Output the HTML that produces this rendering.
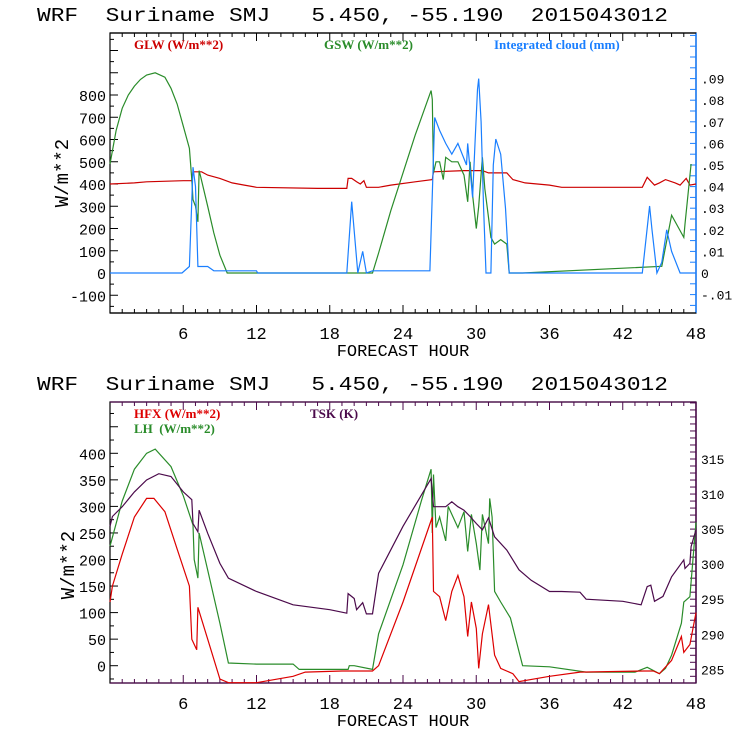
<!DOCTYPE html>
<html><head><meta charset="utf-8"><style>
body{margin:0;background:#fff}
svg{display:block}
text{font-family:"Liberation Mono",monospace;white-space:pre}
.leg{font-family:"Liberation Serif",serif;font-weight:bold;font-size:13px}
</style></head><body>
<svg id="c" width="740" height="740" viewBox="0 0 740 740" xmlns="http://www.w3.org/2000/svg"></svg>
<script>
// ---- data (hours / values) ----
const gswH=[0,0.5,1,1.5,2,2.5,3,3.7,4.5,5,5.5,6,6.5,6.7,6.8,7.0,7.2,7.3,7.4,8,8.5,9,9.6,21.5,22,23,24,25,26.3,26.4,26.5,26.7,27,27.3,27.5,28,28.5,29,29.3,29.5,29.7,30,30.2,30.5,30.7,31,31.2,31.5,32,32.5,32.7,33.8,45.2,46,47,47.1,47.6,48];
const gswV=[490,640,740,800,840,870,890,900,880,830,760,660,560,420,330,300,230,460,440,300,180,80,0,0,90,280,450,620,820,780,450,500,500,420,520,500,500,440,320,500,350,200,300,520,380,250,160,130,150,130,0,0,30,260,160,220,490];
const glwH=[0,2,3,6,6.7,6.8,7.5,8,9,10,11,12,17,19.4,19.5,19.8,20.2,20.5,20.8,21,22,23,25,26.4,26.5,29,30.5,31,32.5,33,34,36,37,43.6,44,44.6,45,45.5,46.3,46.7,47.2,47.5,48];
const glwV=[400,405,410,415,415,455,455,440,425,405,395,385,380,380,425,425,410,400,415,385,385,395,410,420,455,460,460,450,450,420,405,395,385,385,430,395,405,420,405,395,425,395,400];
const cldH=[0,5.9,6.5,6.8,7.0,7.2,8,8.5,12,12.1,19.4,19.8,20.3,20.7,21,21.5,26.2,26.6,27,27.5,28,28.5,29.2,29.3,29.7,29.9,30.1,30.2,30.4,30.6,30.8,31.2,31.4,31.6,32,32.4,32.7,43.6,44.2,44.4,44.8,45.2,45.6,46,46.7,48];
const cldV=[0,0,0.003,0.049,0.04,0.003,0.003,0.001,0.001,0,0,0.033,0,0.01,0,0.001,0.001,0.072,0.066,0.06,0.055,0.06,0.05,0.06,0.035,0.06,0.085,0.09,0.07,0.03,0,0,0.05,0.062,0.055,0.03,0,0,0.031,0.02,0,0.005,0.02,0.01,0,0];
const lhH=[0,1,2,3,3.7,5,6,6.8,6.9,7.2,7.3,8,9,9.7,12,15,15.5,19.5,19.6,20,21.5,22,24,25.5,26.3,26.4,26.5,26.7,27,27.5,27.7,28.5,29,29.3,29.6,30,30.3,30.5,31,31.1,31.3,31.5,32,32.8,33.8,36,39,43,44,45,45.5,46,46.8,47,47.5,48];
const lhV=[225,310,370,400,408,375,320,265,200,165,250,180,80,5,3,3,-7,-7,0,0,-7,60,190,310,370,250,360,260,280,235,300,260,290,215,285,230,180,285,230,315,280,140,120,90,0,-2,-12,-12,-3,-15,-5,20,80,120,130,270];
const hfxH=[0,0.2,1,2,3,3.6,4.5,5.5,6.5,6.7,7.1,7.2,8,9,9.7,12,15,16,19,21.5,22,24,26.4,26.5,27,27.5,28,28.5,29,29.3,29.6,30,30.2,30.5,31,31.5,32,33,33.5,36,38.5,43.7,44.5,45,46,46.8,47,47.5,48];
const hfxV=[120,150,210,280,315,315,290,220,150,50,30,110,50,-25,-32,-32,-20,-12,-10,-10,0,120,280,140,130,85,140,170,130,55,120,70,-5,60,115,20,-5,-15,-30,-20,-12,-10,-10,-15,10,55,25,40,100];
const tskH=[0,0.2,1,2,3,4,5,6,6.7,6.8,7.2,7.3,8,9,9.7,12,15,18,19.4,19.5,20,20.2,20.7,21,21.5,22,24,26.3,26.5,27.5,28,28.5,29,29.5,30,30.5,31,31.5,32.5,33.5,34.5,36,37,38.5,39,42,43.5,44,44.3,44.6,45.3,46,47,47.1,47.5,47.6,48];
const tskV=[305.4,306.8,308.2,310.3,312.0,312.9,312.5,310.3,309.2,305.8,304.6,307.7,304.4,300.1,298,296.1,294.2,293.5,293,295.8,295.1,293.5,294.5,292.9,292.9,298.7,305.4,312.2,308.2,308.2,308.9,308.2,307.7,306.8,305.8,304.9,306.6,303.9,302,299.2,297.7,296.1,296.1,296,295,294.7,294.2,296.8,297,294.7,295.4,298.2,300.6,299.4,300.1,302.5,304.9];
const xTicks=[6,12,18,24,30,36,42,48];
const topL=[-100,0,100,200,300,400,500,600,700,800];
const topR=[-0.01,0,0.01,0.02,0.03,0.04,0.05,0.06,0.07,0.08,0.09];
const topRLab=['-.01','0','.01','.02','.03','.04','.05','.06','.07','.08','.09'];
const botL=[0,50,100,150,200,250,300,350,400];
const botR=[285,290,295,300,305,310,315];

const S=document.getElementById('c'),NS='http://www.w3.org/2000/svg';
function el(t,a,p){const e=document.createElementNS(NS,t);for(const k in a)e.setAttribute(k,a[k]);(p||S).appendChild(e);return e;}
const X0=110,X1=696;const xs=h=>X0+(X1-X0)*h/48;
function tx(x,y,s,o,name){const e=el('text',Object.assign({x:x,y:y},o));e.textContent=s;return e;}
function line(H,V,f,col,name){const pts=H.map((h,i)=>xs(h).toFixed(1)+','+f(V[i]).toFixed(1)).join(' ');const e=el('polyline',{points:pts,fill:'none',stroke:col,'stroke-width':1.2});}
function panel(top,bot,lcol,rcol,yL,yLlab,lmin,lmax,lstep,rVals,rLabs,rmin,rmax,rstep,yRf){
  el('rect',{x:X0,y:top,width:X1-X0,height:bot-top,fill:'none',stroke:'#000','stroke-width':1.2});
  el('line',{x1:X1,y1:top,x2:X1,y2:bot,stroke:rcol,'stroke-width':1.5});
  el('line',{x1:X0,y1:top,x2:X1,y2:top,stroke:lcol,'stroke-width':1.2});
  el('line',{x1:X0,y1:bot,x2:X1,y2:bot,stroke:lcol,'stroke-width':1.2});
  for(let h=1;h<48;h++){const L=h%6==0?8:4;el('line',{x1:xs(h),y1:bot,x2:xs(h),y2:bot-L,stroke:lcol});el('line',{x1:xs(h),y1:top,x2:xs(h),y2:top+L,stroke:lcol});}
  xTicks.forEach(h=>tx(xs(h),bot+26,String(h),{'text-anchor':'middle','font-size':17,fill:'#000'},'x-tick-label'));
  tx(403,bot+43,'FORECAST HOUR',{'text-anchor':'middle','font-size':17,fill:'#000'},'x-axis-title');
  for(let v=lmin;v<=lmax+1e-9;v+=lstep){const y=yL(v);if(y<top||y>bot)continue;const maj=Math.abs((v/(lstep*2))-Math.round(v/(lstep*2)))<1e-6;el('line',{x1:X0,y1:y,x2:X0+(maj?8:4),y2:y,stroke:'#000'});}
  yLlab.forEach(v=>tx(X0-4,yL(v)+6,String(v),{'text-anchor':'end','font-size':15,fill:'#000'},'y-left-tick-label'));
  for(let v=rmin;v<=rmax+1e-9;v+=rstep){const y=yRf(v);if(y<top||y>bot)continue;el('line',{x1:X1,y1:y,x2:X1-6,y2:y,stroke:rcol});}
  rVals.forEach((v,i)=>tx(X1+5,yRf(v)+5,rLabs[i],{'font-size':13,fill:'#000'},'y-right-tick-label'));
}
// top panel
const yT=v=>273-v*0.2225, yTR=v=>273-v*2160;
tx(37,21,'WRF  Suriname SMJ   5.450, -55.190  2015043012',{'font-size':19,textLength:631,lengthAdjust:'spacingAndGlyphs',fill:'#000'},'top-title');
panel(33,313,'#000','#1a7fff',yT,topL,-150,1050,50,topR,topRLab,-0.02,0.15,0.005,yTR);
line(glwH,glwV,yT,'#cc0000','glw-line');
line(gswH,gswV,yT,'#2a8c2a','gsw-line');
line(cldH,cldV,yTR,'#1a7fff','cloud-line');
tx(134,49,'GLW (W/m**2)',{class:'leg',fill:'#cc0000'},'legend-glw');
tx(324,49,'GSW (W/m**2)',{class:'leg',fill:'#2a8c2a'},'legend-gsw');
tx(494,49,'Integrated cloud (mm)',{class:'leg',fill:'#1a7fff'},'legend-cloud');
tx(68,173,'W/m**2',{'font-size':19,'text-anchor':'middle',transform:'rotate(-90 68 173)',fill:'#000'},'y-axis-title-top');
// bottom panel
const yB=v=>665.7-v*0.531, yBR=v=>669.3-(v-285)*7.01;
tx(37,390,'WRF  Suriname SMJ   5.450, -55.190  2015043012',{'font-size':19,textLength:631,lengthAdjust:'spacingAndGlyphs',fill:'#000'},'bottom-title');
panel(402,683,'#4b0a4b','#4b0a4b',yB,botL,-50,500,25,botR,botR.map(String),280,330,1,yBR);
line(lhH,lhV,yB,'#2a8c2a','lh-line');
line(hfxH,hfxV,yB,'#dd0000','hfx-line');
line(tskH,tskV,yBR,'#4b0a4b','tsk-line');
tx(134,418,'HFX (W/m**2)',{class:'leg',fill:'#dd0000'},'legend-hfx');
tx(134,433,'LH  (W/m**2)',{class:'leg',fill:'#2a8c2a'},'legend-lh');
tx(310,418,'TSK (K)',{class:'leg',fill:'#4b0a4b'},'legend-tsk');
tx(74,565,'W/m**2',{'font-size':19,'text-anchor':'middle',transform:'rotate(-90 74 565)',fill:'#000'},'y-axis-title-bottom');
</script>
</body></html>
